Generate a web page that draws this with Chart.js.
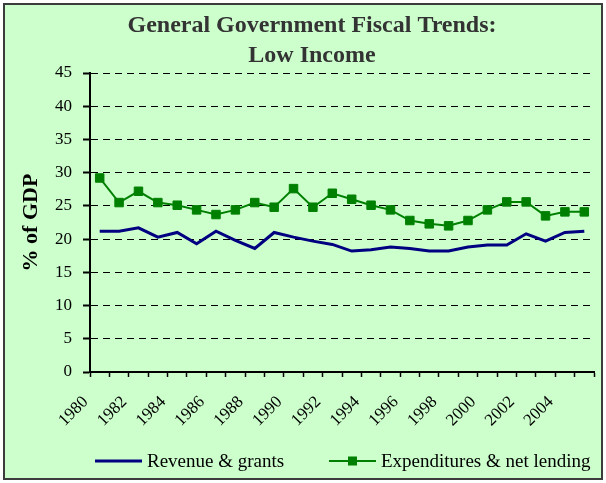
<!DOCTYPE html>
<html>
<head>
<meta charset="utf-8">
<script src="https://cdn.jsdelivr.net/npm/chart.js@4.4.0/dist/chart.umd.min.js"></script>
<style>
html, body { margin: 0; padding: 0; background: #ffffff; }
#wrap { position: relative; width: 606px; height: 483px; }
#frame { position: absolute; left: 3px; top: 3px; width: 596px; height: 473px; border: 2px solid #3c3c3c; background: #ccffcc; }
canvas { position: absolute; left: 0; top: 0; }
</style>
</head>
<body>
<div id="wrap"><div id="frame"></div><canvas id="chart" width="606" height="483"></canvas></div>
<script>
// Données (% du PIB)
const years = ['1980', '1981', '1982', '1983', '1984', '1985', '1986', '1987', '1988', '1989',
    '1990', '1991', '1992', '1993', '1994', '1995', '1996', '1997', '1998', '1999',
    '2000', '2001', '2002', '2003', '2004', '2005'];
const revenue = [21.2, 21.2, 21.7, 20.3, 21.0, 19.3, 21.2, 19.8, 18.6, 21.0,
    20.3, 19.7, 19.2, 18.2, 18.4, 18.8, 18.6, 18.2, 18.2, 18.8,
    19.1, 19.1, 20.8, 19.7, 21.0, 21.2];
const expenditures = [29.2, 25.5, 27.2, 25.5, 25.1, 24.4, 23.7, 24.4, 25.5, 24.8,
    27.6, 24.8, 26.9, 26.0, 25.1, 24.4, 22.8, 22.3, 22.0, 22.8,
    24.4, 25.6, 25.6, 23.5, 24.1, 24.1];
const seriesNames = ['Revenue & grants', 'Expenditures & net lending'];
const titleLines = ['General Government Fiscal Trends:', 'Low Income'];
const yTitle = '% of GDP';
const yTicks = { min: 0, max: 45, step: 5 };

const serif = "'Liberation Serif', 'Times New Roman', serif";

// Légende dessinée à la main (ligne + marqueur carré comme dans Excel)
const bottomLegend = {
    id: 'bottomLegend',
    afterDraw(chart) {
        const ctx = chart.ctx;
        const y = 461;
        const starts = [95, 329];
        const lineLen = 47;
        ctx.save();
        chart.data.datasets.forEach((ds, i) => {
            const x = starts[i];
            ctx.strokeStyle = ds.borderColor;
            ctx.lineWidth = ds.borderWidth;
            ctx.beginPath();
            ctx.moveTo(x, y);
            ctx.lineTo(x + lineLen, y);
            ctx.stroke();
            if (ds.pointRadius > 0) {
                ctx.fillStyle = ds.pointBackgroundColor;
                ctx.fillRect(x + lineLen / 2 - 4.5, y - 4.5, 9, 9);
            }
            ctx.fillStyle = '#000000';
            ctx.font = '19px ' + serif;
            ctx.textBaseline = 'middle';
            ctx.textAlign = 'left';
            ctx.fillText(ds.label, x + lineLen + 5, y + 1);
        });
        ctx.restore();
    }
};

var ctx = document.getElementById('chart').getContext('2d');
var myChart = new Chart(ctx, {
    type: 'line',
    data: {
        labels: years,
        datasets: [{
            label: seriesNames[0],
            data: revenue,
            borderColor: '#000080',
            backgroundColor: '#000080',
            borderWidth: 3,
            pointRadius: 0,
            pointHoverRadius: 0,
            tension: 0,
            fill: false
        }, {
            label: seriesNames[1],
            data: expenditures,
            borderColor: '#008000',
            backgroundColor: '#008000',
            borderWidth: 2,
            pointStyle: 'rect',
            pointRadius: 6,
            pointBackgroundColor: '#008000',
            pointBorderColor: '#008000',
            pointBorderWidth: 1,
            tension: 0,
            fill: false
        }]
    },
    options: {
        responsive: false,
        animation: false,
        layout: { padding: { left: 30, right: 12, top: 0, bottom: 0 } },
        plugins: {
            legend: { display: false },
            tooltip: { enabled: false },
            title: {
                display: true,
                text: titleLines,
                color: '#333333',
                font: { family: serif, size: 24, weight: 'bold', lineHeight: 1.25 },
                padding: { top: 10.5, bottom: 2.5 }
            }
        },
        scales: {
            x: {
                type: 'category',
                offset: true,
                afterFit: (scale) => {
                    scale.height = 111;
                    scale.paddingLeft = 0;
                    scale.paddingRight = 0;
                },
                grid: { display: true, drawOnChartArea: false, drawTicks: true, tickLength: 5, offset: true,
                    color: '#000000', tickColor: '#000000', tickWidth: 1.5 },
                border: { display: true, color: '#000000', width: 2 },
                ticks: {
                    autoSkip: false,
                    minRotation: 45,
                    maxRotation: 45,
                    padding: 15,
                    labelOffset: -14,
                    color: '#000000',
                    font: { family: serif, size: 17 },
                    callback: function (value, index) {
                        return index % 2 === 0 ? years[index] : '';
                    }
                }
            },
            y: {
                min: yTicks.min,
                max: yTicks.max,
                afterFit: (scale) => { scale.width = 60; },
                title: {
                    display: true,
                    text: yTitle,
                    color: '#000000',
                    font: { family: serif, size: 22, weight: 'bold', lineHeight: 1.2 },
                    padding: { top: -12, bottom: 0 }
                },
                grid: { color: '#000000', lineWidth: 1, tickLength: 7, tickWidth: 2, tickColor: '#000000', tickBorderDash: [] },
                border: { display: true, color: '#000000', width: 2, dash: [7, 5] },
                ticks: {
                    stepSize: yTicks.step,
                    padding: 11,
                    color: '#000000',
                    font: { family: serif, size: 17 }
                }
            }
        }
    },
    plugins: [bottomLegend]
});
</script>
</body>
</html>
